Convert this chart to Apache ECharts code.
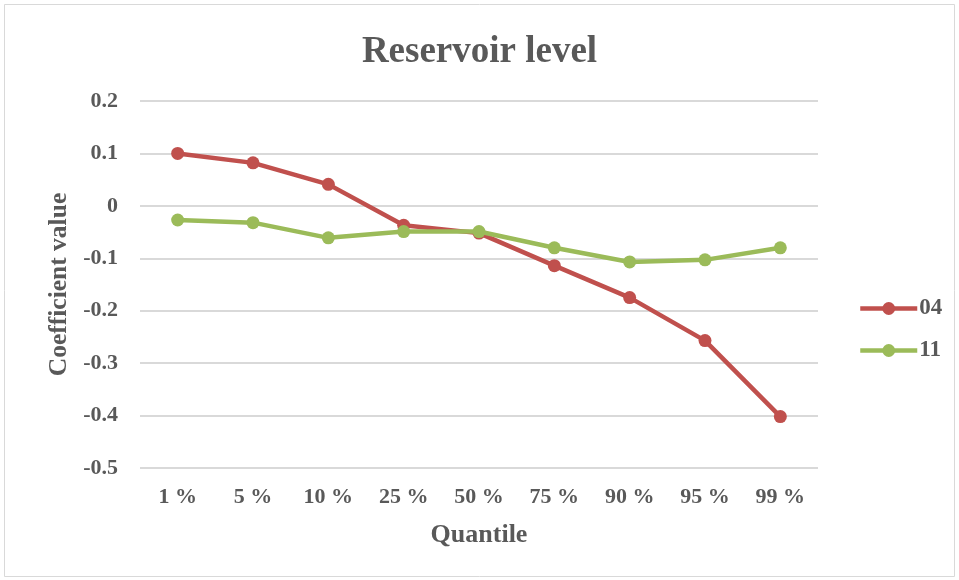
<!DOCTYPE html>
<html>
<head>
<meta charset="utf-8">
<title>Reservoir level</title>
<script src="https://cdn.jsdelivr.net/npm/echarts@6/dist/echarts.min.js"></script>
<style>
  html, body { margin: 0; padding: 0; background: #fff; }
  #chart { width: 959px; height: 580px; }
</style>
</head>
<body>
<div id="chart"></div>
<script>
// Quantile categories along the x axis
const quantiles = ['1 %', '5 %', '10 %', '25 %', '50 %', '75 %', '90 %', '95 %', '99 %'];

// Coefficient values per series
const series04 = [0.100, 0.082, 0.041, -0.037, -0.052, -0.114, -0.175, -0.257, -0.402];
const series11 = [-0.027, -0.032, -0.061, -0.049, -0.049, -0.080, -0.107, -0.103, -0.080];

// Series names shown in the legend
const seriesNames = ['04', '11'];

// Value axis range and step
const yMin = -0.5;
const yMax = 0.2;
const yStep = 0.1;

const textColor = '#595959';
const fontFamily = '"Liberation Serif", "Times New Roman", serif';
const colors = ['#C0504D', '#9BBB59'];

const chart = echarts.init(document.getElementById('chart'), null, { renderer: 'canvas' });

chart.setOption({
  backgroundColor: '#ffffff',
  animation: false,
  textStyle: { fontFamily: fontFamily, color: textColor },
  title: {
    text: 'Reservoir level',
    left: 'center',
    top: 29,
    textStyle: { fontFamily: fontFamily, fontSize: 37, fontWeight: 'bold', color: textColor }
  },
  graphic: [{
    type: 'rect',
    shape: { x: 4.5, y: 4.5, width: 950, height: 572 },
    style: { fill: 'none', stroke: '#d9d9d9', lineWidth: 1 },
    silent: true
  }],
  legend: {
    orient: 'vertical',
    left: 858,
    top: 297,
    padding: 0,
    itemWidth: 57,
    itemHeight: 16,
    itemGap: 19,
    lineStyle: { width: 4.5 },
    textStyle: { fontFamily: fontFamily, fontSize: 23, fontWeight: 'bold', color: textColor, padding: [0, 0, 0, -3] },
    data: seriesNames
  },
  grid: {
    left: 140,
    right: 141,
    top: 101,
    bottom: 112,
    containLabel: false
  },
  xAxis: {
    type: 'category',
    data: quantiles,
    boundaryGap: true,
    name: 'Quantile',
    nameLocation: 'middle',
    nameGap: 54,
    nameTextStyle: { fontFamily: fontFamily, fontSize: 26, fontWeight: 'bold', color: textColor },
    axisLine: { show: false },
    axisTick: { show: false },
    axisLabel: {
      margin: 18,
      fontFamily: fontFamily, fontSize: 22, fontWeight: 'bold', color: textColor
    },
    splitLine: { show: false }
  },
  yAxis: {
    type: 'value',
    min: yMin,
    max: yMax,
    interval: yStep,
    name: 'Coefficient value',
    nameLocation: 'middle',
    nameGap: 62,
    nameRotate: 90,
    nameTextStyle: { fontFamily: fontFamily, fontSize: 25.5, fontWeight: 'bold', color: textColor },
    axisLine: { show: false },
    axisTick: { show: false },
    axisLabel: {
      margin: 22,
      fontFamily: fontFamily, fontSize: 22, fontWeight: 'bold', color: textColor,
      formatter: function (v) {
        const r = Math.round(v * 10) / 10;
        return r === 0 ? '0' : r.toFixed(1);
      }
    },
    splitLine: { show: true, lineStyle: { color: '#d9d9d9', width: 2 } }
  },
  series: [
    {
      name: seriesNames[0],
      type: 'line',
      data: series04,
      symbol: 'circle',
      symbolSize: 13,
      itemStyle: { color: colors[0] },
      lineStyle: { color: colors[0], width: 4.5 },
      z: 2
    },
    {
      name: seriesNames[1],
      type: 'line',
      data: series11,
      symbol: 'circle',
      symbolSize: 13,
      itemStyle: { color: colors[1] },
      lineStyle: { color: colors[1], width: 4.5 },
      z: 3
    }
  ]
});
</script>
</body>
</html>
